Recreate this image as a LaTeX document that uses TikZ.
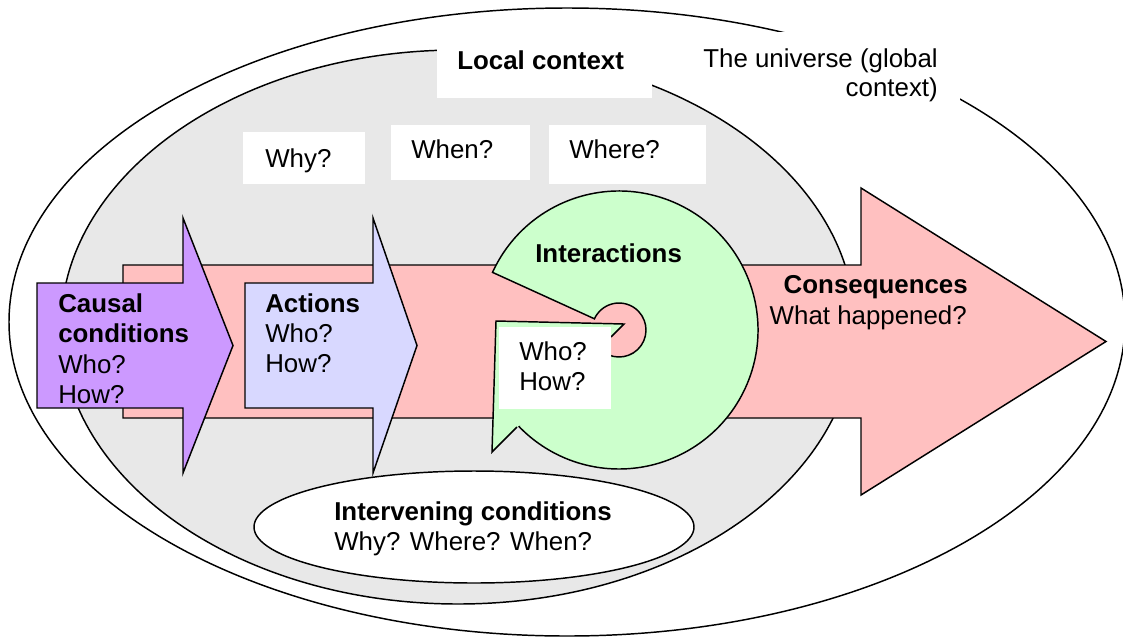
\documentclass[tikz,border=0pt]{standalone}
\usepackage{fontspec}
\setmainfont{Liberation Sans}
\usetikzlibrary{calc}
\definecolor{pinkfill}{RGB}{255,192,192}
\definecolor{purplefill}{RGB}{204,153,255}
\definecolor{lavfill}{RGB}{216,216,255}
\definecolor{greenfill}{RGB}{204,255,204}
\definecolor{grayfill}{RGB}{232,232,232}
\begin{document}
\begin{tikzpicture}[x=0.75pt,y=-0.75pt,
  outline/.style={draw=black,line width=1.1pt,line join=miter},
  wbox/.style={fill=white},
  txt/.style={anchor=base west,inner sep=0pt,font=\fontsize{19.4}{23}\selectfont},
  btxt/.style={txt,font=\fontsize{19.4}{23}\selectfont\bfseries},
  rtxt/.style={txt,anchor=base east},
  brtxt/.style={btxt,anchor=base east}]
\useasboundingbox (0,0) rectangle (1123,636);
% global context
\path[outline,fill=white] (567,322) ellipse [x radius=558, y radius=314];
\path[wbox] (696,32) rectangle (960,102);
% local context
\path[outline,fill=grayfill] (458,327) ellipse [x radius=397, y radius=277];
\path[wbox] (437,40) rectangle (652,98);
% question boxes
\path[wbox] (243,132) rectangle (365,184);
\path[wbox] (391,125) rectangle (530,180);
\path[wbox] (549,125) rectangle (706,184);
% intervening conditions
\path[outline,fill=white] (474,527) ellipse [x radius=220, y radius=56];
% big pink arrow
\path[outline,fill=pinkfill] (123,265) -- (861,265) -- (861,188) -- (1106,341.5) -- (861,495) -- (861,418) -- (123,418) -- cycle;
% interactions block arc
\coordinate (gc) at (619,330);
\path[outline,fill=greenfill] ($(gc)+(204.5:139)$) arc[start angle=204.5,end angle=496.4,radius=139]
  -- ($(gc)+(496.4:27)$) arc[start angle=496.4,end angle=204.5,radius=27] -- cycle;
% callout
\fill[greenfill] (496,321) -- (624,324) -- (611,337) -- (611,410) -- (540,415) -- (517,427) -- (492,452) -- cycle;
\draw[outline] (611,337) -- (624,324) -- (496,321) -- (492,452) -- (517,427);
\path[wbox] (499,327) rectangle (611,409);
% causal conditions arrow
\path[outline,fill=purplefill] (37,283) -- (183,283) -- (183,218) -- (233,345.5) -- (183,473) -- (183,408) -- (37,408) -- cycle;
% actions arrow
\path[outline,fill=lavfill] (245,283) -- (373,283) -- (373,218) -- (417,345.5) -- (373,473) -- (373,408) -- (245,408) -- cycle;
% texts
\node[btxt] (lc) at (457,69) {Local context};
\node[rtxt] (univa) at (938,67) {The universe (global};
\node[rtxt] (univb) at (938,96) {context)};
\node[txt] (why) at (265,167) {Why?};
\node[txt] (when) at (411,158) {When?};
\node[txt] (where) at (569,158) {Where?};
\node[btxt] (cca) at (58,312) {Causal};
\node[btxt] (ccb) at (58,342) {conditions};
\node[txt] (ccc) at (58,373) {Who?};
\node[txt] (ccd) at (58,403) {How?};
\node[btxt] (aca) at (265,312) {Actions};
\node[txt] (acb) at (265,342) {Who?};
\node[txt] (acc) at (265,372) {How?};
\node[btxt] (inter) at (535,262) {Interactions};
\node[txt] (iwho) at (519,360) {Who?};
\node[txt] (ihow) at (519,390) {How?};
\node[brtxt] (cons) at (968,293) {Consequences};
\node[rtxt] (what) at (967,324) {What happened?};
\node[btxt] (inta) at (334,520) {Intervening conditions};
\node[txt] (intb) at (334,550) {Why? Where? When?};
\end{tikzpicture}
\end{document}
